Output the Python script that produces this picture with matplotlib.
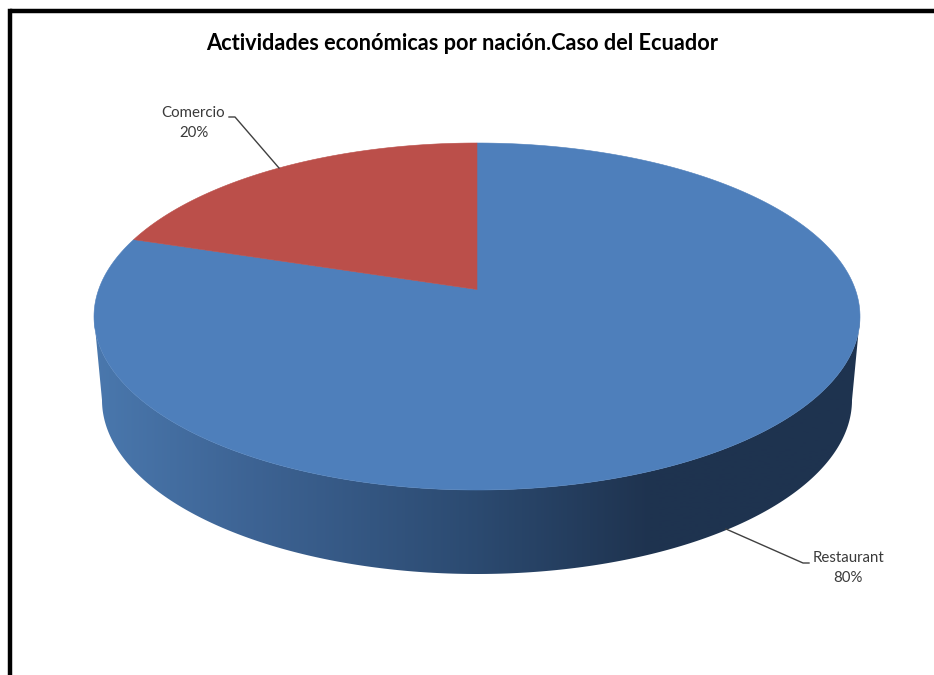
"""
Actividades económicas por nación - pastel 3D (estilo Excel)
La parte superior se proyecta con perspectiva: el vértice queda arriba del centro de la elipse
"""

import numpy as np
import matplotlib
matplotlib.use('Agg')
import matplotlib.pyplot as plt
from matplotlib.patches import Polygon

plt.rcParams['font.family'] = ['Lato', 'DejaVu Sans']

titulo = 'Actividades económicas por nación.Caso del Ecuador'
categorias = ['Restaurant', 'Comercio']
valores = [80, 20]
colores = ['#4e7fbb', '#bb4f4a']

# Degradado del lateral: posición en x (px) y color
lado_x = [94, 250, 477, 650, 860]
lado_rgb = [(0.29, 0.47, 0.68), (0.24, 0.39, 0.58), (0.17, 0.29, 0.44), (0.12, 0.20, 0.31), (0.12, 0.20, 0.31)]

# Geometría en píxeles
W, H = 934, 675
cx, cy, rx, ry = 477.0, 316.5, 383.0, 173.5
vertice = 27.0
cy_base, rx_base, ry_base = 400.0, 375.0, 174.0

k = vertice / ry
a = rx * np.sqrt(1 - k ** 2)


def proyectar(theta):
    """Ángulo horario desde arriba -> píxel sobre la cara superior"""
    u, v = np.sin(theta), np.cos(theta)
    w = 1 + k * v
    return cx + a * u / w, cy - (ry * v + vertice) / w


fig = plt.figure(figsize=(W / 100, H / 100), dpi=100)
ax = fig.add_axes([0, 0, 1, 1])

# Marco negro (solo arriba e izquierda)
ax.plot([10, 10], [H, 10.5], color='black', linewidth=3.2, solid_joinstyle='miter')
ax.plot([10, W], [10.5, 10.5], color='black', linewidth=3.2, solid_capstyle='butt')

# Lateral del pastel: degradado horizontal recortado con el contorno
t = np.linspace(np.pi, 0, 241)
x_sup = cx + rx * np.cos(t)
y_sup = cy + ry * np.sin(t)
x_inf = cx + rx_base * np.cos(t)
y_inf = cy_base + ry_base * np.sin(t)
contorno = Polygon(list(zip(x_sup, y_sup)) + list(zip(x_inf[::-1], y_inf[::-1])),
                   closed=True, facecolor='none', edgecolor='none')
ax.add_patch(contorno)

xs = np.arange(lado_x[0], lado_x[-1] + 1)
gradiente = np.stack([np.interp(xs, lado_x, [c[j] for c in lado_rgb]) for j in range(3)], axis=-1)
img = ax.imshow(gradiente[np.newaxis, :, :], extent=(lado_x[0], lado_x[-1], 600, 300),
                aspect='auto', interpolation='bilinear')
img.set_clip_path(contorno)

# Cara superior: cada porción sale de los valores
total = sum(valores)
inicio = 0.0
for valor, color in zip(valores, colores):
    fin = inicio + 2 * np.pi * valor / total
    th = np.linspace(inicio, fin, 300)
    px, py = proyectar(th)
    pts = [(cx, cy - vertice)] + list(zip(px, py))
    ax.add_patch(Polygon(pts, closed=True, facecolor=color, edgecolor=color, linewidth=0.4))
    inicio = fin

# Título y etiquetas
ax.text(462, 43, titulo, ha='center', va='center', fontsize=15.7, fontweight='bold', color='black')

ax.plot([229, 235, 279], [117, 117, 168], color='#404040', linewidth=1.0)
ax.text(193.5, 113, categorias[1], ha='center', va='center', fontsize=10.8, color='#3a3a3a')
ax.text(193.5, 133, f'{valores[1]}%', ha='center', va='center', fontsize=10.8, color='#3a3a3a')

ax.plot([726, 803, 809], [529, 563, 563], color='#404040', linewidth=1.0)
ax.text(848, 558, categorias[0], ha='center', va='center', fontsize=10.8, color='#3a3a3a')
ax.text(848, 578, f'{valores[0]}%', ha='center', va='center', fontsize=10.8, color='#3a3a3a')

ax.set_xlim(0, W)
ax.set_ylim(H, 0)
ax.axis('off')

plt.savefig('out.png', dpi=100)
